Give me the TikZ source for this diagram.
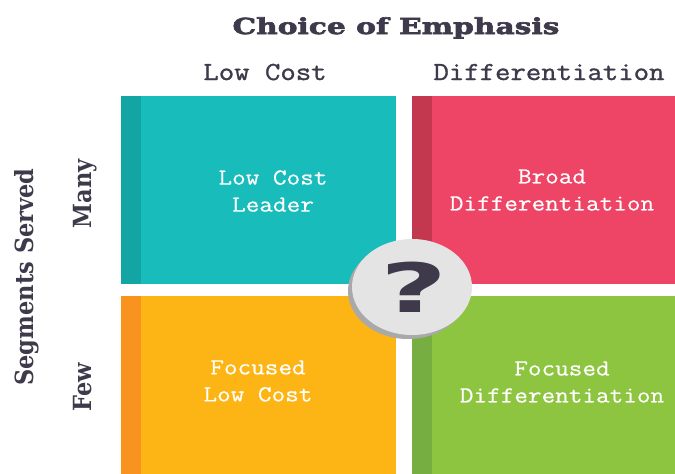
\documentclass[tikz,border=0pt]{standalone}
\usepackage{fontspec}
\usepackage{xcolor}
\usepackage{tikz}
\usetikzlibrary{calc,shapes.geometric}
\newfontfamily\cellfont[FakeStretch=1.15,FakeBold=0.5]{Latin Modern Mono}
\newfontfamily\headfont[FakeStretch=1.15,FakeBold=1.2]{Latin Modern Mono}
\newfontfamily\titlefont[FakeStretch=1.35,FakeBold=3]{DejaVu Serif Bold}
\newfontfamily\sidefont{DejaVu Serif Condensed Bold}
\newfontfamily\qfont[FakeStretch=1.7]{DejaVu Sans Bold}
\definecolor{ink}{HTML}{3E3A4B}
\definecolor{tealbox}{HTML}{17BCBB}
\definecolor{tealside}{HTML}{12A5A4}
\definecolor{redbox}{HTML}{EE4466}
\definecolor{redside}{HTML}{C3384F}
\definecolor{goldbox}{HTML}{FDB515}
\definecolor{goldside}{HTML}{F7931E}
\definecolor{greenbox}{HTML}{8DC540}
\definecolor{greenside}{HTML}{76AE41}
\definecolor{discfill}{HTML}{E4E4E4}
\definecolor{discshade}{HTML}{A9A9A9}
\newcommand{\stripew}{20}
\newcommand{\quadrant}[6]{\fill[#5] (#1,#2) rectangle (#3,#4);
  \fill[#6] (#1,#2) rectangle (#1+\stripew,#4);}

\begin{document}
\begin{tikzpicture}[x=1pt,y=-1pt,
    cell/.style={white,align=center,font=\cellfont\fontsize{23}{27}\selectfont},
    head/.style={ink,anchor=base,font=\headfont\fontsize{26}{30}\selectfont},
    side/.style={ink,rotate=90,anchor=base,font=\sidefont\fontsize{25}{30}\selectfont}]

    \useasboundingbox (0,0) rectangle (675,474);
    \coordinate (O) at (0,0);

    % the four quadrants
    \quadrant{121}{96}{396}{284}{tealbox}{tealside}
    \quadrant{412}{96}{675}{284}{redbox}{redside}
    \quadrant{121}{296}{396}{474}{goldbox}{goldside}
    \quadrant{412}{296}{675}{474}{greenbox}{greenside}

    \node[cell] (leader) at (273,191) {Low Cost\\Leader};
    \node[cell] (broad) at (552,190) {Broad\\Differentiation};
    \node[cell] (foclow) at (258,381) {Focused\\Low Cost};
    \node[cell] (focdiff) at (562,382) {Focused\\Differentiation};

    % headings
    \node[ink,anchor=base,font=\titlefont\fontsize{22}{26}\selectfont] (title) at (396,34) {Choice of Emphasis};
    \node[head] (lowcost) at (265,80) {Low Cost};
    \node[head] (diff) at (549,80) {Differentiation};

    \node[side] (segments) at (33,277) {Segments Served};
    \node[side] (many) at (91,194) {Many};
    \node[side] (few) at (91,387) {Few};

    % the question disc
    \fill[discshade] (408,291) ellipse [x radius=60, y radius=48];
    \node[ellipse,fill=discfill,minimum width=120,minimum height=96,inner sep=0pt] (disc) at (412,287) {};
    \node[ink,anchor=base,font=\qfont\fontsize{68}{70}\selectfont] (qmark) at (414,312) {?};
\end{tikzpicture}
\end{document}
